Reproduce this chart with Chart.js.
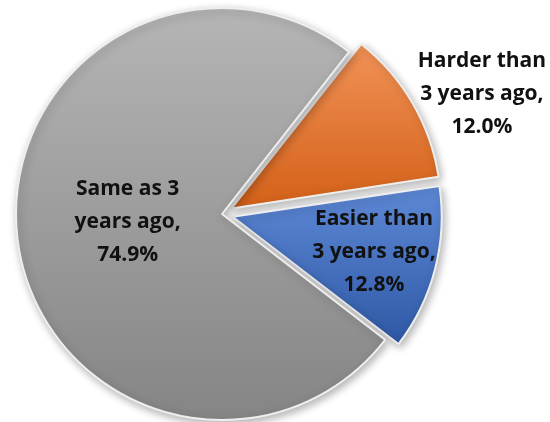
<!DOCTYPE html>
<html>
<head>
<meta charset="utf-8">
<script src="https://cdn.jsdelivr.net/npm/chart.js@4"></script>
<style>
  html, body { margin: 0; padding: 0; background: #ffffff; }
  #wrap { width: 550px; height: 422px; position: relative; }
</style>
</head>
<body>
<div id="wrap"><canvas id="c" width="550" height="422"></canvas></div>
<script>
// ---- data ----
const categories = ['Harder than 3 years ago', 'Easier than 3 years ago', 'Same as 3 years ago'];
const labelLines = [['Harder than', '3 years ago,'], ['Easier than', '3 years ago,'], ['Same as 3', 'years ago,']];
const values = [12.0, 12.8, 74.9];

// ---- style ----
const topColors = ['#f29358', '#5d88d6', '#b5b5b5'];
const bottomColors = ['#d4621a', '#2e58a4', '#858585'];
const offsets = [44, 44, 0];          // Chart.js arc offset (drawn at 1/4)
const ROTATION = 38.1;                 // degrees
const RADIUS = 206;
// label placement: radial factor of radius, angular shift (deg) from slice bisector
const labelRadial = [1.39, 0.76, 0.46];
const labelShift = [5.4, -0.6, 2.0];
const FONT = 'bold 21px "Open Sans", "DejaVu Sans", sans-serif';
const LINE_H = 33;

function sliceAngles(i) {
  const total = values.reduce((a, b) => a + b, 0);
  let a = (-90 + ROTATION) * Math.PI / 180;
  for (let k = 0; k < i; k++) a += values[k] / total * Math.PI * 2;
  return [a, a + values[i] / total * Math.PI * 2];
}

function sliceGradient(context) {
  const chart = context.chart;
  const i = context.dataIndex;
  const area = chart.chartArea;
  if (!area || i === undefined) return topColors[i || 0];
  const cx = (area.left + area.right) / 2, cy = (area.top + area.bottom) / 2;
  const [s, e] = sliceAngles(i);
  const mid = (s + e) / 2;
  const off = offsets[i] / 4;
  const ox = cx + Math.cos(mid) * off, oy = cy + Math.sin(mid) * off;
  let minY = oy, maxY = oy;
  for (let t = 0; t <= 60; t++) {
    const a = s + (e - s) * t / 60;
    const y = oy + Math.sin(a) * RADIUS;
    minY = Math.min(minY, y); maxY = Math.max(maxY, y);
  }
  const g = chart.ctx.createLinearGradient(0, minY, 0, maxY);
  g.addColorStop(0, topColors[i]);
  g.addColorStop(1, bottomColors[i]);
  return g;
}

const shadowPlugin = {
  id: 'shadow',
  beforeDatasetsDraw(chart) {
    const ctx = chart.ctx;
    ctx.save();
    ctx.shadowColor = 'rgba(0,0,0,0.30)';
    ctx.shadowBlur = 8;
    ctx.shadowOffsetX = 2;
    ctx.shadowOffsetY = 3;
  },
  afterDatasetsDraw(chart) {
    chart.ctx.restore();
  }
};

const labelPlugin = {
  id: 'sliceLabels',
  afterDraw(chart) {
    const ctx = chart.ctx;
    const meta = chart.getDatasetMeta(0);
    ctx.save();
    ctx.font = FONT;
    ctx.fillStyle = '#111111';
    ctx.textAlign = 'center';
    ctx.textBaseline = 'middle';
    meta.data.forEach((arc, i) => {
      const mid = (arc.startAngle + arc.endAngle) / 2 + labelShift[i] * Math.PI / 180;
      const r = arc.outerRadius * labelRadial[i];
      const x = arc.x + Math.cos(mid) * r;
      const y = arc.y + Math.sin(mid) * r;
      const lines = labelLines[i].concat([values[i].toFixed(1) + '%']);
      lines.forEach((ln, k) => {
        ctx.fillText(ln, x, y + (k - (lines.length - 1) / 2) * LINE_H);
      });
    });
    ctx.restore();
  }
};

new Chart(document.getElementById('c'), {
  type: 'pie',
  data: {
    labels: categories,
    datasets: [{
      data: values,
      backgroundColor: sliceGradient,
      borderColor: '#eeeeee',
      borderWidth: 2,
      offset: offsets,
      hoverOffset: 0
    }]
  },
  options: {
    responsive: false,
    animation: false,
    rotation: ROTATION,
    radius: RADIUS,
    layout: { padding: { left: 0, right: 106, top: 6, bottom: 0 } },
    plugins: { legend: { display: false }, tooltip: { enabled: false } }
  },
  plugins: [shadowPlugin, labelPlugin]
});
</script>
</body>
</html>
